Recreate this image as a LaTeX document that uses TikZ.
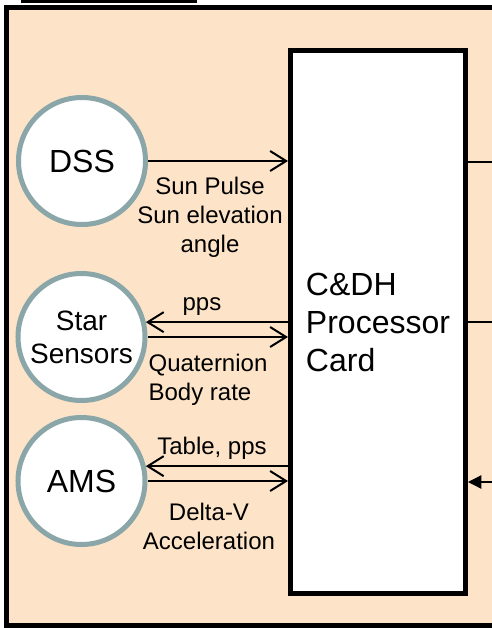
\documentclass[tikz,border=0pt]{standalone}
\usepackage{fontspec}
\setmainfont{Liberation Sans}
\usetikzlibrary{arrows.meta,positioning}
\definecolor{cPanel}{HTML}{FDE4C8}
\definecolor{cRing}{HTML}{8BA6A8}

\begin{document}
\begin{tikzpicture}[
  x=0.75pt,y=-0.75pt,
  font=\fontsize{18}{21.75}\selectfont,
  sensor/.style={circle,draw=cRing,line width=3.75pt,fill=white,minimum size=95.25pt,inner sep=0pt,align=center},
  card/.style={rectangle,draw=black,line width=3.75pt,fill=white,minimum width=131.25pt,minimum height=407.25pt,inner sep=0pt,align=left},
  sig/.style={-{Straight Barb[length=12pt,width=15pt]},line width=1.5pt},
  bus/.style={line width=1pt},
  busin/.style={-{Triangle[length=10pt,width=10pt]},line width=1pt},
  lab/.style={align=center,inner sep=0pt},
]
\clip (0,0) rectangle (492,628);
\draw[line width=3.75pt,fill=cPanel] (6.5,7) rectangle (520,625.5);
\draw[line width=2.25pt] (21,1.5) -- (197,1.5);

\node[card,font=\fontsize{24}{28.5}\selectfont,text depth=0pt] (card) at (378,322) {C\&DH\\Processor\\Card};
\node[sensor,font=\fontsize{24}{28.8}\selectfont] (dss) at (82,161) {DSS};
\node[sensor,font=\fontsize{21}{24.75}\selectfont] (star) at (81.5,337) {Star\\Sensors};
\node[sensor,font=\fontsize{24}{28.8}\selectfont] (ams) at (81.5,481) {AMS};

\draw[sig] (dss.east) -- (dss.east -| card.west);
\draw[sig] (star.13 -| card.west) -- (star.13);
\draw[sig] (star.east) -- (star.east -| card.west);
\draw[sig] (ams.13 -| card.west) -- (ams.13);
\draw[sig] (ams.east) -- (ams.east -| card.west);

\coordinate (out1) at (495,162);
\coordinate (out2) at (495,322);
\coordinate (out3) at (495,482);
\draw[bus] (card.east |- out1) -- (out1);
\draw[bus] (card.east |- out2) -- (out2);
\draw[busin] (out3) -- (card.east |- out3);

\node[lab] (sunlab) at (210,217) {Sun Pulse\\Sun elevation\\angle};
\node[lab] (ppslab) at (202,307) {pps};
\node[lab,align=left] (quatlab) at (208,380) {Quaternion\\Body rate};
\node[lab] (tablab) at (212,448) {Table, pps};
\node[lab] (dvlab) at (209,526) {Delta-V\\Acceleration};
\end{tikzpicture}
\end{document}
